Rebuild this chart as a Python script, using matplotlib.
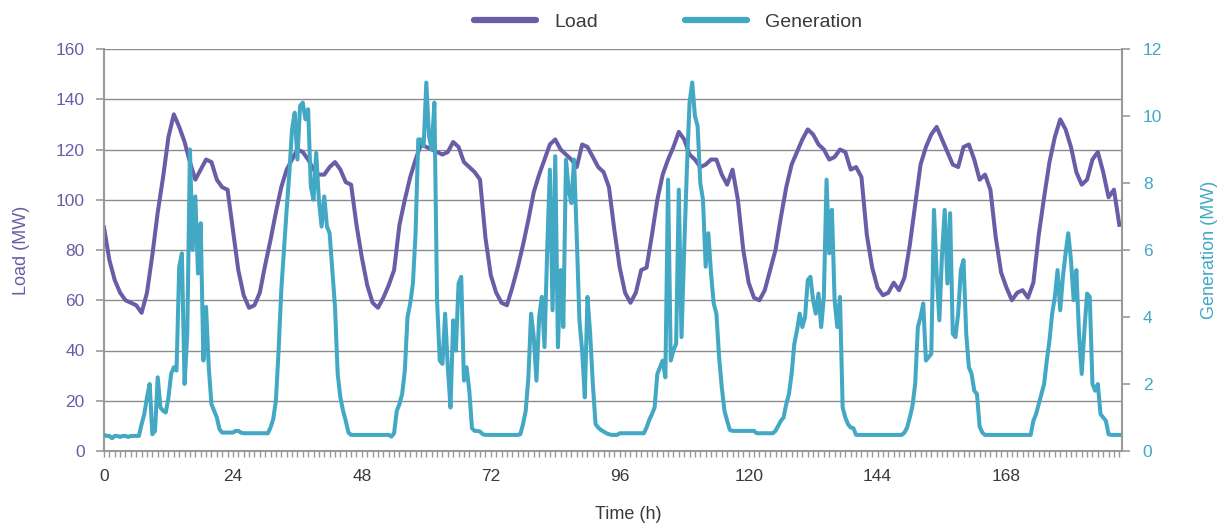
import numpy as np
import matplotlib
matplotlib.use("Agg")
import matplotlib.pyplot as plt
from matplotlib.lines import Line2D

plt.rcParams["font.family"] = ["Liberation Sans", "DejaVu Sans"]

# hourly load (MW), hour 0 .. 189
load = [
    89, 76, 68, 63, 60, 59, 58, 55, 63, 78, 95, 109, 125, 134, 129, 123, 115, 108, 112, 116, 115, 108, 105, 104,
    88, 72, 62, 57, 58, 63, 74, 84, 95, 105, 112, 116, 120, 119, 116, 112, 110, 110, 113, 115, 112, 107, 106, 90,
    77, 66, 59, 57, 61, 66, 72, 90, 100, 109, 116, 122, 121, 120, 119, 118, 119, 123, 121, 115, 113, 111, 108, 85,
    70, 63, 59, 58, 65, 73, 82, 92, 103, 110, 116, 122, 124, 120, 118, 116, 113, 122, 121, 117, 113, 111, 105, 88,
    73, 63, 59, 63, 72, 73, 86, 100, 110, 116, 121, 127, 124, 118, 116, 113, 114, 116, 116, 110, 106, 112, 100, 80,
    67, 61, 60, 64, 72, 80, 93, 105, 114, 119, 124, 128, 126, 122, 120, 116, 117, 120, 119, 112, 113, 109, 86, 73,
    65, 62, 63, 67, 64, 69, 82, 98, 114, 121, 126, 129, 124, 119, 114, 113, 121, 122, 116, 108, 110, 104, 85, 71,
    65, 60, 63, 64, 61, 67, 86, 101, 115, 125, 132, 128, 121, 111, 106, 108, 116, 119, 111, 101, 104, 90,
]

# half-hourly generation (MW), hour 0 .. 189.5
generation = [
    # day 1
    0.48, 0.45, 0.45, 0.38, 0.45, 0.45, 0.42, 0.45, 0.45, 0.42, 0.45, 0.45, 0.45, 0.45,
    0.8, 1.1, 1.6, 2.0, 0.5, 0.6, 2.2, 1.3, 1.2, 1.15,
    1.6, 2.3, 2.5, 2.4, 5.5, 5.9, 2.0, 3.5, 9.0, 6.0, 7.6, 5.3,
    6.8, 2.7, 4.3, 2.5, 1.4, 1.2, 1.0, 0.65, 0.55, 0.55, 0.55, 0.55,
    # day 2
    0.55, 0.6, 0.6, 0.55,
    0.53, 0.53, 0.53, 0.53, 0.53, 0.53, 0.53, 0.53, 0.53, 0.53,
    0.7, 0.95, 1.5, 3.0, 4.8, 6.0, 7.2, 8.3, 9.6, 10.1,
    8.7, 10.3, 10.4, 9.9, 10.2, 7.9, 7.5, 8.9, 7.5, 6.7,
    7.6, 6.7, 6.5, 5.4, 4.3, 2.3, 1.6, 1.2, 0.9, 0.55,
    0.48, 0.48, 0.48, 0.48,
    # day 3
    0.48, 0.48, 0.48, 0.48, 0.48, 0.48, 0.48, 0.48, 0.48, 0.48, 0.48, 0.43,
    0.53, 1.2, 1.4, 1.7, 2.4, 4.0, 4.4, 5.0, 6.5, 9.3,
    9.3, 9.1, 11.0, 9.4, 9.0, 10.4, 4.5, 2.7, 2.6, 4.1,
    2.5, 1.3, 3.9, 3.0, 5.0, 5.2, 2.1, 2.5, 1.8, 0.68,
    0.6, 0.6, 0.58, 0.5, 0.48, 0.48,
    # day 4
    0.48, 0.48, 0.48, 0.48, 0.48, 0.48, 0.48, 0.48, 0.48, 0.48, 0.48, 0.5,
    0.8, 1.2, 2.2, 4.1, 3.4, 2.1, 4.0, 4.6, 3.1, 6.0,
    8.4, 4.2, 8.8, 3.1, 5.4, 3.7, 8.7, 7.8, 7.4, 8.7,
    6.4, 3.9, 3.0, 1.6, 4.6, 3.5, 2.0, 0.8, 0.7, 0.63,
    0.58, 0.53, 0.5, 0.48, 0.48, 0.48,
    # day 5
    0.53, 0.53, 0.53, 0.53, 0.53, 0.53, 0.53, 0.53, 0.53, 0.53,
    0.7, 0.93, 1.1, 1.3, 2.3, 2.5, 2.7, 2.2, 8.1, 2.7,
    3.0, 3.2, 7.8, 3.4, 6.0, 8.4, 10.4, 11.0, 10.0, 9.7,
    8.0, 7.5, 5.5, 6.5, 5.3, 4.4, 4.1, 2.8, 1.9, 1.2,
    0.9, 0.63, 0.6, 0.6, 0.6, 0.6, 0.6, 0.6,
    # day 6
    0.6, 0.6, 0.6, 0.53, 0.53, 0.53, 0.53, 0.53, 0.53, 0.53,
    0.6, 0.75, 0.9, 1.0, 1.4, 1.7, 2.3, 3.2, 3.6, 4.1,
    3.7, 4.0, 5.1, 5.2, 4.5, 4.1, 4.7, 3.7, 4.6, 8.1,
    5.9, 7.2, 4.5, 3.7, 4.6, 1.3, 1.0, 0.8, 0.7, 0.68,
    0.48, 0.48, 0.48, 0.48, 0.48, 0.48, 0.48, 0.48,
    # day 7
    0.48, 0.48, 0.48, 0.48, 0.48, 0.48, 0.48, 0.48, 0.48, 0.48,
    0.55, 0.7, 1.0, 1.35, 2.0, 3.7, 4.0, 4.4, 2.7, 2.8,
    2.9, 7.2, 5.3, 3.9, 5.9, 7.2, 5.0, 7.1, 3.5, 3.4,
    4.1, 5.4, 5.7, 3.5, 2.5, 2.3, 1.8, 1.7, 0.73, 0.55,
    0.48, 0.48, 0.48, 0.48, 0.48, 0.48, 0.48, 0.48,
    # day 8 (partial)
    0.48, 0.48, 0.48, 0.48, 0.48, 0.48, 0.48, 0.48, 0.48, 0.48,
    0.9, 1.1, 1.4, 1.7, 2.0, 2.7, 3.3, 4.1, 4.6, 5.4,
    4.2, 5.2, 5.9, 6.5, 5.7, 4.5, 5.4, 3.5, 2.3, 3.6,
    4.7, 4.6, 2.0, 1.8, 2.0, 1.1, 1.0, 0.9, 0.5, 0.48,
    0.48, 0.48, 0.48, 0.48,
]

load_hours = np.arange(len(load))
gen_hours = np.arange(len(generation)) * 0.5

purple = "#6b5ca8"
teal = "#42a8c4"
grey = "#999999"
text_dark = "#3a3a3a"

fig = plt.figure(figsize=(12.3, 5.27), dpi=100)
ax = fig.add_axes([104 / 1230, 76 / 527, 1018 / 1230, 402 / 527])
ax.plot(load_hours, load, color=purple, lw=2.9, solid_joinstyle="round")

ax2 = ax.twinx()
ax2.plot(gen_hours, generation, color=teal, lw=2.9, solid_joinstyle="round")

ax.set_xlim(0, 189.5)
ax.set_ylim(0, 160)
ax2.set_ylim(0, 12)

ax.set_xticks(range(0, 169, 24))
ax.set_xticks(range(0, 190), minor=True)
ax.set_yticks(range(0, 161, 20))
ax2.set_yticks(range(0, 13, 2))

ax.grid(axis="y", color="#8c8c8c", lw=1.0)
ax.set_axisbelow(True)

for s in ["top", "right"]:
    ax.spines[s].set_visible(False)
for s in ["top", "left", "bottom"]:
    ax2.spines[s].set_visible(False)
for sp in [ax.spines["left"], ax.spines["bottom"], ax2.spines["right"]]:
    sp.set_color(grey)
    sp.set_linewidth(1.5)

ax.tick_params(axis="x", which="both", direction="out", length=4, width=1,
               color=grey, labelcolor=text_dark, labelsize=12.5, pad=9)
ax.tick_params(axis="y", direction="out", length=6, width=1.2, color=grey,
               labelcolor=purple, labelsize=12.5, pad=8)
ax2.tick_params(axis="y", direction="out", length=6, width=1.2, color=grey,
                labelcolor=teal, labelsize=12.5, pad=9)

ax.set_xlabel("Time (h)", fontsize=13, color=text_dark)
ax.xaxis.set_label_coords(0.515, -0.137)
ax.set_ylabel("Load (MW)", fontsize=13, color=purple)
ax.yaxis.set_label_coords(-0.073, 0.5)
ax2.set_ylabel("Generation (MW)", fontsize=13, color=teal, rotation=90)
ax2.yaxis.set_label_coords(1.0775, 0.5)

handles = [
    Line2D([], [], color=purple, lw=4.5, solid_capstyle="round"),
    Line2D([], [], color=teal, lw=4.5, solid_capstyle="round"),
]
leg = fig.legend(handles, ["Load", "Generation"], loc="center",
                 bbox_to_anchor=(668 / 1230, 1 - 22 / 527), ncol=2, frameon=False,
                 fontsize=14, handlelength=3.2, handletextpad=0.9, columnspacing=4.5)
for t in leg.get_texts():
    t.set_color(text_dark)

fig.savefig("out.png", dpi=100)
